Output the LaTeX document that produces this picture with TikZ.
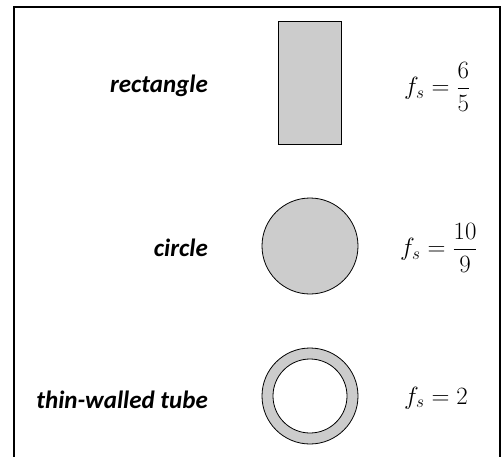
\documentclass[tikz,border=0pt]{standalone}
\usepackage{amsmath}
\usepackage{fontspec}
\setsansfont{Carlito}
\usepackage{tikz}

\begin{document}
\begin{tikzpicture}[x=1pt, y=-1pt, every node/.style={inner sep=0pt},
    shapename/.style={anchor=east, font=\sffamily\bfseries\itshape\fontsize{25}{30}\selectfont},
    factor/.style={anchor=west, font=\fontsize{26}{30}\selectfont},
    section/.style={draw=black, fill=black!20, line width=0.8pt}]
                    \useasboundingbox (0,0) rectangle (503,456);
                    \draw[line width=1.5pt] (14,460) -- (14,7) -- (500,7) -- (500,460);
                    % rectangle
                    \node[shapename] (rectlabel) at (208,86) {rectangle};
                    \node[section, minimum width=63pt, minimum height=123pt] (rect) at (310,83) {};
                    \node[factor] (rectfs) at (404,87) {$f_s=\dfrac{6}{5}$};
                    % circle
                    \node[shapename] (circlabel) at (208,248) {circle};
                    \node[section, circle, minimum size=96pt] (circ) at (310,246) {};
                    \node[factor] (circfs) at (400,248) {$f_s=\dfrac{10}{9}$};
                    % tube
                    \node[shapename] (tubelabel) at (208,400) {thin-walled tube};
                    \node[section, circle, minimum size=96pt] (tube) at (310,396) {};
                    \node[draw=black, fill=white, line width=0.8pt, circle, minimum size=74pt] (bore) at (tube) {};
                    \node[factor] (tubefs) at (404,398) {$f_s=2$};
                \end{tikzpicture}
\end{document}
